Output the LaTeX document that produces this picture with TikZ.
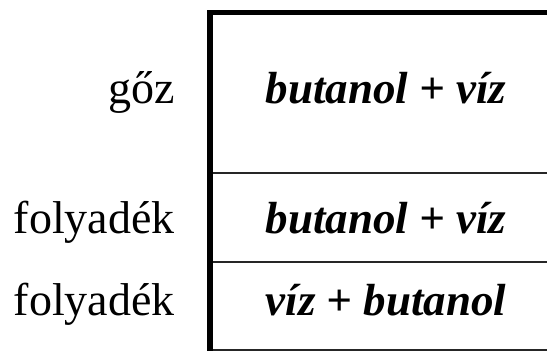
\documentclass[tikz,border=0pt]{standalone}
\usepackage{fontspec}
\setmainfont{Liberation Serif}
\begin{document}
\begin{tikzpicture}[x=1pt,y=-1pt,
  thickline/.style={line width=5.5pt,black},
  thinline/.style={line width=2pt,black!85},
  lbl/.style={font=\fontsize{46}{50}\selectfont,anchor=base east,inner sep=0pt},
  mix/.style={font=\fontsize{45}{49}\selectfont\bfseries\itshape,anchor=base,inner sep=0pt}]
\useasboundingbox (0,0) rectangle (547,351);
% partitions
\draw[thinline] (210,173) -- (547,173);
\draw[thinline] (210,262) -- (547,262);
\draw[thinline] (210,349.5) -- (547,349.5);
% vessel walls
\draw[thickline] (210,351) -- (210,12.5) -- (547,12.5);
% labels
\node[lbl] (l1) at (175,103) {gőz};
\node[lbl] (l2) at (175,233) {folyadék};
\node[lbl] (l3) at (175,315) {folyadék};
\node[mix] (m1) at (386,103) {butanol + víz};
\node[mix] (m2) at (386,233) {butanol + víz};
\node[mix] (m3) at (386,315) {víz + butanol};
\end{tikzpicture}
\end{document}
